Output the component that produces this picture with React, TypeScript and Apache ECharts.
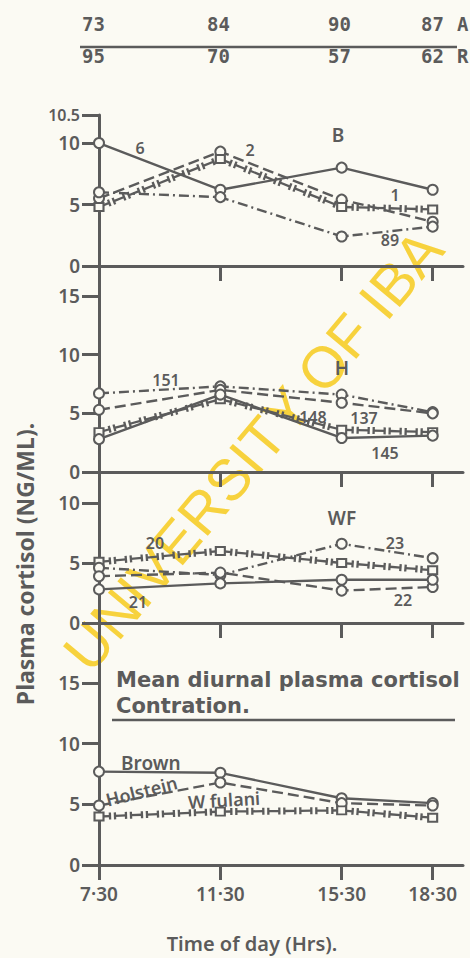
import React, { useEffect, useRef } from "react";
import * as echarts from "echarts";

// ---------- data ----------
const times = [7.5, 11.5, 15.5, 18.5];
const timeLabels = ["7·30", "11·30", "15·30", "18·30"];
const countsA = ["73", "84", "90", "87"];
const countsR = ["95", "70", "57", "62"];

// Panel B
const b6 = [10.0, 6.2, 8.0, 6.2];
const b2 = [5.5, 9.3, 5.4, 3.6];
const b1 = [4.8, 8.7, 4.8, 4.6];
const b89 = [6.0, 5.6, 2.4, 3.2];
// Panel H
const h151 = [6.7, 7.3, 6.6, 5.1];
const h137 = [5.3, 7.0, 5.9, 5.0];
const h148 = [3.4, 6.2, 3.6, 3.4];
const h145 = [2.8, 6.6, 2.9, 3.1];
// Panel WF
const wf20 = [5.1, 6.0, 5.0, 4.4];
const wf23 = [4.6, 4.0, 6.6, 5.4];
const wf22 = [3.9, 4.2, 2.7, 3.0];
const wf21 = [2.8, 3.3, 3.6, 3.6];
// Mean panel
const brown = [7.7, 7.6, 5.5, 5.1];
const holstein = [4.9, 6.8, 5.1, 4.9];
const wFulani = [4.0, 4.4, 4.5, 3.9];

const INK = "#5b5b5b";
const BG = "#fbfaf3";
const FONT = "'Noto Sans', 'DejaVu Sans', sans-serif";

type Kind = "solid" | "dashed" | "dashdot" | "hbar";
interface Ser { grid: number; values: number[]; kind: Kind; symbol: "circle" | "rect"; }

const seriesDefs: Ser[] = [
  { grid: 0, values: b6, kind: "solid", symbol: "circle" },
  { grid: 0, values: b2, kind: "dashed", symbol: "circle" },
  { grid: 0, values: b1, kind: "hbar", symbol: "rect" },
  { grid: 0, values: b89, kind: "dashdot", symbol: "circle" },
  { grid: 1, values: h151, kind: "dashdot", symbol: "circle" },
  { grid: 1, values: h137, kind: "dashed", symbol: "circle" },
  { grid: 1, values: h148, kind: "hbar", symbol: "rect" },
  { grid: 1, values: h145, kind: "solid", symbol: "circle" },
  { grid: 2, values: wf20, kind: "hbar", symbol: "rect" },
  { grid: 2, values: wf23, kind: "dashdot", symbol: "circle" },
  { grid: 2, values: wf22, kind: "dashed", symbol: "circle" },
  { grid: 2, values: wf21, kind: "solid", symbol: "circle" },
  { grid: 3, values: brown, kind: "solid", symbol: "circle" },
  { grid: 3, values: holstein, kind: "dashed", symbol: "circle" },
  { grid: 3, values: wFulani, kind: "hbar", symbol: "rect" },
];

const panels = [
  { top: 115, height: 151, max: 12.28, ticks: [0, 5, 10, 12.28] },
  { top: 266, height: 206, max: 17.56, ticks: [0, 5, 10, 15] },
  { top: 472, height: 151, max: 12.58, ticks: [0, 5, 10] },
  { top: 623, height: 242, max: 19.95, ticks: [0, 5, 10, 15] },
];

const annotations = [
  { text: "B", x: 338, y: 135, size: 19 },
  { text: "6", x: 140, y: 148, size: 16 },
  { text: "2", x: 250, y: 150, size: 16 },
  { text: "1", x: 395, y: 195, size: 16 },
  { text: "89", x: 390, y: 240, size: 16 },
  { text: "H", x: 342, y: 368, size: 19 },
  { text: "151", x: 166, y: 380, size: 16 },
  { text: "148", x: 313, y: 417, size: 16 },
  { text: "137", x: 364, y: 418, size: 16 },
  { text: "145", x: 385, y: 453, size: 16 },
  { text: "WF", x: 342, y: 518, size: 19 },
  { text: "20", x: 155, y: 543, size: 16 },
  { text: "23", x: 395, y: 543, size: 16 },
  { text: "21", x: 138, y: 602, size: 16 },
  { text: "22", x: 403, y: 600, size: 16 },
];

const headerX = [82, 207, 328, 421];

function dashType(kind: Kind): any {
  if (kind === "dashed") return [11, 5];
  if (kind === "dashdot") return [10, 4, 2, 4];
  return "solid";
}

function hbarRender(params: any, api: any) {
  const a = api.coord([api.value(0), api.value(1)]);
  const b = api.coord([api.value(2), api.value(3)]);
  const dx = b[0] - a[0];
  const dy = b[1] - a[1];
  const len = Math.hypot(dx, dy);
  const ux = dx / len, uy = dy / len;
  const nx = -uy, ny = ux;
  const D = 11, G = 5, T = 3.5;
  const children: any[] = [];
  const st = { stroke: INK, lineWidth: 2.3 };
  for (let s = 0; s < len; s += D + G) {
    const e = Math.min(s + D, len);
    const x1 = a[0] + ux * s, y1 = a[1] + uy * s;
    const x2 = a[0] + ux * e, y2 = a[1] + uy * e;
    children.push({ type: "line", shape: { x1, y1, x2, y2 }, style: st });
    children.push({ type: "line", shape: { x1: x1 - nx * T, y1: y1 - ny * T, x2: x1 + nx * T, y2: y1 + ny * T }, style: st });
    children.push({ type: "line", shape: { x1: x2 - nx * T, y1: y2 - ny * T, x2: x2 + nx * T, y2: y2 + ny * T }, style: st });
  }
  return { type: "group", children };
}

export default function App() {
  const ref = useRef<HTMLDivElement>(null);
  useEffect(() => {
    document.body.style.margin = "0";
    document.body.style.background = BG;
    const chart = echarts.init(ref.current!, null, { renderer: "svg" });

    const grid = panels.map((p) => ({ left: 99, width: 364, top: p.top, height: p.height }));
    const xAxis = panels.map((p, i) => ({
      type: "value",
      gridIndex: i,
      min: 7.5,
      max: 19.5,
      splitLine: { show: false },
      axisLine: { show: true, lineStyle: { color: INK, width: 3 } },
      axisTick: { show: true, customValues: times, length: 15, lineStyle: { color: INK, width: 3 } },
      axisLabel: {
        show: i === panels.length - 1,
        customValues: times,
        margin: 19,
        color: INK,
        fontFamily: FONT,
        fontSize: 19,
        fontWeight: 600,
        formatter: (v: number) => timeLabels[times.indexOf(v)] ?? "",
      },
    }));
    const yAxis = panels.map((p, i) => ({
      type: "value",
      gridIndex: i,
      min: 0,
      max: p.max,
      interval: 5,
      splitLine: { show: false },
      axisLine: { show: true, lineStyle: { color: INK, width: 3 } },
      axisTick: { show: true, customValues: p.ticks, length: 17, lineStyle: { color: INK, width: 3 } },
      axisLabel: {
        customValues: p.ticks,
        margin: 19,
        color: INK,
        fontFamily: FONT,
        fontSize: 19,
        fontWeight: 600,
        formatter: (v: number) => (v > 11 && i === 0 ? "{s|10.5}" : String(v)),
        rich: { s: { fontSize: 16, fontFamily: FONT, fontWeight: 600, color: INK } },
      },
    }));

    const series: any[] = [];
    seriesDefs.forEach((s) => {
      const pts = times.map((t, k) => [t, s.values[k]]);
      if (s.kind === "hbar") {
        const segs = pts.slice(0, -1).map((p, k) => [p[0], p[1], pts[k + 1][0], pts[k + 1][1]]);
        series.push({
          type: "custom",
          xAxisIndex: s.grid,
          yAxisIndex: s.grid,
          data: segs,
          encode: { x: [0, 2], y: [1, 3] },
          renderItem: hbarRender,
          silent: true,
          z: 2,
        });
      }
      series.push({
        type: "line",
        xAxisIndex: s.grid,
        yAxisIndex: s.grid,
        data: pts,
        symbol: s.symbol,
        symbolSize: s.symbol === "rect" ? [9, 8] : 10,
        showAllSymbol: true,
        lineStyle: {
          color: INK,
          width: s.kind === "hbar" ? 0 : 2.4,
          opacity: s.kind === "hbar" ? 0 : 1,
          type: dashType(s.kind),
        },
        itemStyle: { color: BG, borderColor: INK, borderWidth: 2 },
        silent: true,
        z: 3,
      });
    });

    const txt = (text: string, x: number, y: number, size: number, extra: any = {}) => ({
      type: "text",
      x,
      y,
      z: 10,
      rotation: extra.rotation ?? 0,
      style: {
        text,
        fill: INK,
        font: `${extra.weight ?? 600} ${size}px ${extra.family ?? FONT}`,
        textAlign: extra.align ?? "center",
        textVerticalAlign: "middle",
      },
    });

    const monoFont = "bold 19px 'DejaVu Sans Mono', monospace";

    const graphic: any[] = [
      {
        type: "text",
        x: 75,
        y: 662,
        rotation: 0.873,
        z: -5,
        style: {
          text: "UNIVERSITY OF IBA",
          fill: "#f5c400",
          opacity: 0.75,
          font: "58px 'Liberation Sans', Arial, sans-serif",
          textAlign: "left",
          textVerticalAlign: "middle",
        },
      },
      { type: "line", shape: { x1: 80, y1: 47, x2: 457, y2: 47 }, style: { stroke: INK, lineWidth: 2.5 } },
      ...countsA.map((c, i) => ({
        type: "text", x: headerX[i], y: 24,
        style: { text: c, fill: INK, font: monoFont, textAlign: "left", textVerticalAlign: "middle" },
      })),
      ...countsR.map((c, i) => ({
        type: "text", x: headerX[i], y: 56,
        style: { text: c, fill: INK, font: monoFont, textAlign: "left", textVerticalAlign: "middle" },
      })),
      { type: "text", x: 457, y: 24, style: { text: "A", fill: INK, font: monoFont, textAlign: "left", textVerticalAlign: "middle" } },
      { type: "text", x: 457, y: 56, style: { text: "R", fill: INK, font: monoFont, textAlign: "left", textVerticalAlign: "middle" } },
      ...annotations.map((a) => txt(a.text, a.x, a.y, a.size)),
      txt("Mean diurnal plasma cortisol", 116, 680, 21, { align: "left", weight: "bold", family: "'DejaVu Sans', sans-serif" }),
      txt("Contration.", 116, 706, 21, { align: "left", weight: "bold", family: "'DejaVu Sans', sans-serif" }),
      { type: "line", shape: { x1: 112, y1: 720, x2: 455, y2: 720 }, style: { stroke: INK, lineWidth: 2.5 } },
      txt("Brown", 121, 763, 19, { align: "left" }),
      txt("Holstein", 106, 800, 18, { align: "left", rotation: 0.25 }),
      txt("W fulani", 188, 802, 18, { align: "left", rotation: 0.06 }),
      txt("Plasma cortisol (NG/ML).", 25, 564, 23, { rotation: Math.PI / 2, weight: 700 }),
      txt("Time of day (Hrs).", 252, 943, 20),
    ];

    chart.setOption({
      animation: false,
      backgroundColor: BG,
      grid,
      xAxis,
      yAxis,
      series,
      graphic,
    });
    return () => chart.dispose();
  }, []);
  return <div ref={ref} style={{ position: "fixed", left: 0, top: 0, width: 470, height: 958 }} />;
}
